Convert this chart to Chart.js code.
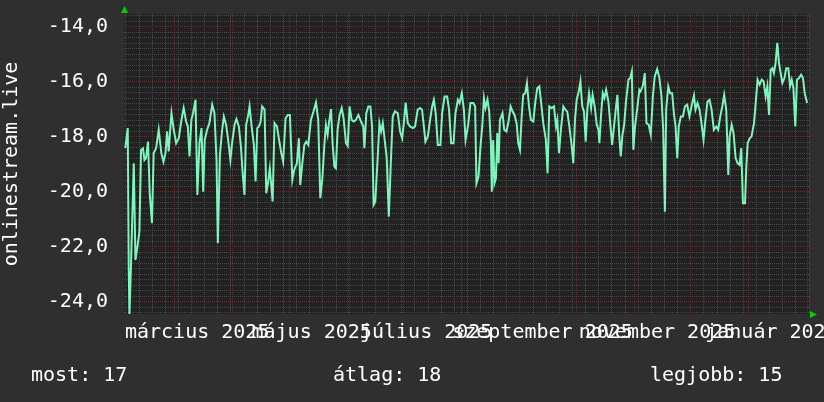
<!DOCTYPE html>
<html>
<head>
<meta charset="utf-8">
<title>onlinestream.live</title>
<script src="https://cdn.jsdelivr.net/npm/chart.js@4.4.1/dist/chart.umd.min.js"></script>
<style>
    html, body { margin: 0; padding: 0; background: #2f2f2f; }
</style>
</head>
<body>
<canvas id="rankChart" width="824" height="402"></canvas>
<script>
/*
    Data. x = days after 2 Feb 2025, y = daily value.
*/
const daysFebMay = [0.7, 2.0, 2.5, 2.9, 3.7, 5.2, 6.1, 6.9, 8.2, 9.1, 10.1, 10.9, 11.7, 12.8, 13.7, 14.9, 15.8, 17.1, 18.5, 19.9,
    21.0, 22.1, 23.0, 23.8, 25.3, 26.5, 27.8, 29.2, 30.6, 31.8, 33.1, 34.0, 34.9, 35.9, 36.8, 38.1, 39.1, 40.2, 41.3, 42.2,
    43.0, 44.3, 45.5, 47.0, 48.2, 49.3, 50.0, 51.1, 52.3, 53.2, 54.4, 55.5, 56.7, 57.6, 58.9, 59.9, 61.2, 62.3, 63.3, 64.2,
    65.1, 66.2, 66.9, 68.0, 69.2, 70.1, 71.0, 71.9, 72.8, 73.6, 74.9, 75.8, 76.7, 77.7, 79.2, 80.2, 81.5, 82.5, 83.8, 84.8,
    86.1, 87.3, 88.4, 89.7];
const valuesFebMay = [-18.42, -17.69, -22.73, -24.49, -22.73, -18.97, -22.49, -22.12, -21.46, -18.48, -18.42, -18.85, -18.78, -18.18, -20.06, -21.15, -18.60, -18.42, -17.75, -18.60,
    -18.91, -18.60, -17.81, -18.54, -17.15, -17.75, -18.24, -18.06, -17.39, -16.96, -17.45, -17.63, -18.72, -17.39, -17.15, -16.66, -20.12, -18.24, -17.69, -20.00,
    -18.12, -17.75, -17.51, -16.84, -17.15, -18.85, -21.88, -18.66, -17.75, -17.27, -17.57, -18.12, -18.85, -18.24, -17.57, -17.36, -17.63, -18.36, -19.39, -20.12,
    -17.57, -17.21, -16.90, -17.63, -18.30, -19.63, -17.69, -17.63, -17.45, -16.90, -17.02, -20.06, -19.70, -19.15, -20.36, -17.51, -17.63, -18.06, -18.60, -18.91,
    -17.33, -17.21, -17.21, -19.57];

const daysMayAug = [90.7, 92.1, 93.2, 93.9, 95.0, 96.1, 97.1, 98.2, 99.6, 101.0, 102.3, 103.5, 104.6, 105.7, 106.7, 107.6, 108.5, 109.2, 110.3, 111.2,
    112.1, 112.9, 113.8, 114.9, 116.0, 117.0, 118.3, 119.2, 120.2, 121.3, 122.4, 123.6, 124.9, 126.3, 127.5, 128.1, 129.1, 130.2, 131.3, 132.2,
    133.0, 133.9, 135.2, 136.1, 137.0, 137.9, 139.1, 140.0, 141.1, 142.3, 143.2, 144.4, 145.9, 147.1, 148.2, 149.1, 150.1, 151.2, 152.4, 153.9,
    155.1, 156.5, 157.8, 158.8, 159.7, 160.6, 161.9, 163.1, 164.2, 165.1, 166.1, 167.2, 168.6, 169.5, 170.8, 172.2, 173.2, 174.3, 175.6, 176.6,
    177.9, 178.8, 180.0, 181.1, 182.0];
const valuesMayAug = [-19.21, -18.97, -18.06, -19.76, -18.97, -18.30, -18.18, -18.30, -17.39, -17.08, -16.76, -17.39, -20.24, -19.51, -18.36, -17.57, -17.93, -17.51, -17.00, -18.30,
    -19.09, -19.15, -17.75, -17.21, -16.96, -17.33, -18.24, -18.34, -16.90, -17.39, -17.45, -17.39, -17.21, -17.45, -17.63, -18.42, -17.15, -16.90, -16.90, -17.63,
    -20.48, -20.36, -18.72, -17.51, -17.81, -17.51, -18.24, -18.78, -20.91, -18.72, -17.27, -17.08, -17.15, -17.81, -18.06, -17.51, -16.76, -17.51, -17.63, -17.69,
    -17.63, -17.02, -16.96, -17.02, -17.57, -18.18, -17.99, -17.39, -16.90, -16.66, -17.15, -18.30, -18.30, -17.15, -16.54, -16.54, -17.02, -18.24, -18.24, -17.15,
    -16.66, -16.78, -16.42, -17.02, -18.12];

const daysAugNov = [183.4, 184.6, 186.1, 187.1, 187.8, 188.9, 190.0, 190.9, 191.8, 192.6, 193.7, 194.6, 195.5, 196.0, 196.7, 197.4, 198.2, 198.9, 199.6, 200.3,
    201.7, 202.6, 203.8, 204.9, 206.0, 207.1, 208.1, 209.2, 210.1, 211.0, 211.9, 212.7, 213.8, 214.7, 215.8, 216.8, 218.1, 219.1, 220.2, 221.3,
    222.3, 223.4, 224.8, 225.7, 226.6, 227.9, 229.1, 230.2, 230.9, 231.8, 232.8, 234.1, 235.2, 236.2, 237.3, 238.4, 239.4, 240.3, 241.2, 242.3,
    243.2, 244.2, 245.1, 246.0, 246.9, 247.8, 248.9, 249.7, 250.8, 251.9, 252.8, 253.3, 254.2, 255.1, 256.0, 256.9, 258.1, 259.0, 260.1, 261.1,
    262.2, 262.9, 263.8, 264.7, 265.6, 266.5, 267.5, 268.8, 269.7, 270.6, 271.4, 272.3, 273.6, 274.6];
const valuesAugNov = [-17.57, -16.78, -16.78, -16.90, -19.70, -19.45, -18.30, -17.63, -16.60, -16.96, -16.66, -17.09, -18.24, -20.00, -18.12, -19.70, -19.51, -17.87, -18.97, -17.39,
    -17.15, -17.75, -17.81, -17.45, -16.90, -17.09, -17.21, -17.51, -18.24, -18.48, -17.27, -16.48, -16.42, -16.05, -16.90, -17.39, -17.45, -16.78, -16.24, -16.17,
    -16.78, -17.51, -18.12, -19.33, -16.90, -16.96, -16.90, -17.63, -17.39, -18.60, -17.75, -16.90, -17.02, -17.09, -17.63, -18.24, -18.97, -17.39, -16.66, -16.36,
    -15.99, -16.90, -17.09, -18.18, -17.02, -16.42, -16.96, -16.48, -16.90, -17.57, -17.75, -18.24, -17.21, -16.42, -16.60, -16.30, -16.72, -17.45, -18.30, -17.63,
    -16.90, -16.48, -17.87, -18.72, -17.93, -17.57, -16.72, -15.93, -15.87, -15.63, -18.48, -17.63, -16.90, -16.30];

const daysNovFeb = [275.2, 276.4, 277.5, 278.4, 279.6, 280.7, 281.8, 282.8, 284.1, 285.3, 286.4, 287.3, 288.2, 288.9, 290.0, 291.0, 292.1, 293.0, 293.9, 294.8,
    295.6, 296.7, 297.8, 298.9, 300.1, 301.3, 302.4, 303.7, 304.5, 305.6, 306.7, 307.7, 308.8, 309.9, 310.9, 312.0, 313.1, 314.3, 315.6, 316.6,
    317.7, 318.8, 319.8, 320.9, 322.0, 322.7, 323.8, 324.8, 325.9, 327.0, 328.0, 328.9, 329.8, 330.9, 331.6, 332.3, 333.4, 334.4, 335.7, 336.6,
    337.6, 338.7, 339.8, 340.8, 341.9, 342.8, 343.7, 344.6, 345.5, 346.3, 347.2, 348.1, 349.0, 349.9, 350.8, 351.9, 352.9, 354.0, 354.9, 355.8,
    356.7, 357.7, 358.6, 359.7, 360.8, 361.8, 362.7, 364.0];
const valuesNovFeb = [-16.36, -16.17, -15.69, -17.51, -17.57, -17.93, -16.54, -15.81, -15.54, -15.87, -16.54, -17.75, -20.73, -17.02, -16.17, -16.42, -16.42, -17.15, -17.63, -18.78,
    -17.63, -17.27, -17.27, -16.90, -16.84, -17.27, -16.90, -16.51, -17.02, -16.78, -17.02, -17.51, -18.12, -17.33, -16.72, -16.66, -17.02, -17.75, -17.63, -17.75,
    -17.27, -16.90, -16.48, -17.02, -19.39, -17.99, -17.57, -17.87, -18.78, -18.97, -19.03, -18.42, -20.42, -20.42, -19.09, -18.24, -18.06, -17.99, -17.51, -16.78,
    -15.93, -16.11, -15.93, -15.99, -16.54, -16.17, -17.21, -15.57, -15.51, -15.69, -15.32, -14.59, -15.32, -15.69, -16.05, -15.87, -15.51, -15.51, -16.17, -15.93,
    -16.23, -17.63, -15.93, -15.87, -15.75, -15.87, -16.42, -16.78];

// first day of each month, as days after 2 Feb 2025 (red grid lines)
const monthStarts = [-1, 27, 58, 88, 119, 149, 180, 211, 241, 272, 302, 333, 364];
// x axis labels, every second month
const labelDays = [39, 100, 161, 223, 284, 345];
const labelTexts = ['március 2025', 'május 2025', 'július 2025', 'szeptember 2025', 'november 2025', 'január 2026'];
// summary line under the chart
const summaryTexts = ['most: 17', 'átlag: 18', 'legjobb: 15'];

const Y_MIN = -24.45;
const Y_MAX = -13.54;
const X_MIN = 0;
const X_MAX = 365;

const FONT = { family: '"DejaVu Sans Mono", monospace', size: 20 };
const GREY = 'rgba(72, 72, 72, 1)';
const RED = 'rgba(105, 42, 42, 1)';
const LINE = '#7ef5bd';

/*
    Joins the segments into the points for the line.
*/
function buildPoints() {
    const days = [].concat(daysFebMay, daysMayAug, daysAugNov, daysNovFeb);
    const values = [].concat(valuesFebMay, valuesMayAug, valuesAugNov, valuesNovFeb);
    if (days.length !== values.length) {
        console.error('days and values differ: ' + days.length + ' / ' + values.length);
    }
    const points = [];
    for (let i = 0; i < Math.min(days.length, values.length); i++) {
        points.push({ x: days[i], y: values[i] });
    }
    return points;
}

// weekly grid on Mondays (3 Feb 2025 = day 1) plus the month starts
function gridDays() {
    const list = monthStarts.filter(d => d >= X_MIN && d <= X_MAX);
    for (let d = 1; d <= X_MAX; d += 7) {
        if (list.indexOf(d) < 0) list.push(d);
    }
    return list.sort((a, b) => a - b);
}

function isMajorY(v) {
    return Math.abs(v / 2 - Math.round(v / 2)) < 1e-6;
}

const backgroundPlugin = {
    id: 'background',
    beforeDraw(chart) {
        const { ctx, chartArea } = chart;
        ctx.save();
        ctx.fillStyle = '#2f2f2f';
        ctx.fillRect(0, 0, chart.width, chart.height);
        ctx.fillStyle = '#212121';
        ctx.fillRect(chartArea.left, chartArea.top, chartArea.right - chartArea.left, chartArea.bottom - chartArea.top);
        ctx.restore();
    }
};

const extrasPlugin = {
    id: 'extras',
    afterDraw(chart) {
        const { ctx, chartArea } = chart;
        ctx.save();
        // arrows at the axis ends
        ctx.fillStyle = '#00d000';
        ctx.beginPath();
        ctx.moveTo(chartArea.left - 3, chartArea.top - 1);
        ctx.lineTo(chartArea.left + 4, chartArea.top - 1);
        ctx.lineTo(chartArea.left + 0.5, chartArea.top - 8);
        ctx.closePath();
        ctx.fill();
        ctx.beginPath();
        ctx.moveTo(chartArea.right + 1, chartArea.bottom - 3);
        ctx.lineTo(chartArea.right + 1, chartArea.bottom + 4);
        ctx.lineTo(chartArea.right + 8, chartArea.bottom + 0.5);
        ctx.closePath();
        ctx.fill();
        // summary line
        ctx.fillStyle = '#ffffff';
        ctx.font = FONT.size + 'px ' + FONT.family;
        ctx.textBaseline = 'alphabetic';
        const xs = [31, 333, 650];
        summaryTexts.forEach((t, i) => ctx.fillText(t, xs[i], 381));
        ctx.restore();
    }
};

function drawChart() {
    const ctx = document.getElementById('rankChart').getContext('2d');
    new Chart(ctx, {
        type: 'line',
        data: {
            datasets: [{
                data: buildPoints(),
                borderColor: LINE,
                borderWidth: 2,
                pointRadius: 0,
                tension: 0,
                xAxisID: 'x',
                yAxisID: 'y'
            }]
        },
        options: {
            responsive: false,
            animation: false,
            layout: { padding: { top: 14, right: 15, left: 0, bottom: 0 } },
            plugins: {
                legend: { display: false },
                tooltip: { enabled: false }
            },
            scales: {
                x: {
                    type: 'linear',
                    position: 'bottom',
                    min: X_MIN,
                    max: X_MAX,
                    afterBuildTicks: scale => { scale.ticks = gridDays().map(v => ({ value: v })); },
                    afterFit: scale => { scale.height = 0; scale.paddingLeft = 0; scale.paddingRight = 0; },
                    ticks: { display: false, autoSkip: false },
                    grid: {
                        drawTicks: false,
                        lineWidth: 1,
                        color: c => monthStarts.indexOf(c.tick.value) >= 0 ? RED : GREY
                    },
                    border: { display: false, dash: [1, 1] }
                },
                xl: {
                    type: 'linear',
                    position: 'bottom',
                    min: X_MIN,
                    max: X_MAX,
                    afterBuildTicks: scale => { scale.ticks = labelDays.map(v => ({ value: v })); },
                    afterFit: scale => { scale.height = 88; scale.paddingLeft = 0; scale.paddingRight = 0; },
                    ticks: {
                        autoSkip: false,
                        maxRotation: 0,
                        minRotation: 0,
                        color: '#ffffff',
                        font: FONT,
                        padding: 7,
                        callback: (v, i) => labelTexts[i]
                    },
                    grid: { display: false, drawTicks: false },
                    border: { display: false }
                },
                y: {
                    type: 'linear',
                    min: Y_MIN,
                    max: Y_MAX,
                    afterBuildTicks: scale => {
                        const t = [];
                        for (let k = Math.ceil(Y_MIN / 0.2); k <= Math.floor(Y_MAX / 0.2); k++) t.push({ value: k * 0.2 });
                        scale.ticks = t;
                    },
                    afterFit: scale => { scale.width = 124; scale.paddingTop = 0; scale.paddingBottom = 0; },
                    ticks: {
                        autoSkip: false,
                        color: '#ffffff',
                        font: FONT,
                        padding: 16,
                        callback: v => isMajorY(v) ? v.toFixed(1).replace('.', ',') : ''
                    },
                    grid: {
                        drawTicks: false,
                        lineWidth: 1,
                        color: c => isMajorY(c.tick.value) ? RED : GREY
                    },
                    border: { display: false, dash: [1, 1] },
                    title: {
                        display: true,
                        text: 'onlinestream.live',
                        color: '#ffffff',
                        font: FONT,
                        padding: 0
                    }
                }
            }
        },
        plugins: [backgroundPlugin, extrasPlugin]
    });
}

drawChart();
</script>
</body>
</html>
